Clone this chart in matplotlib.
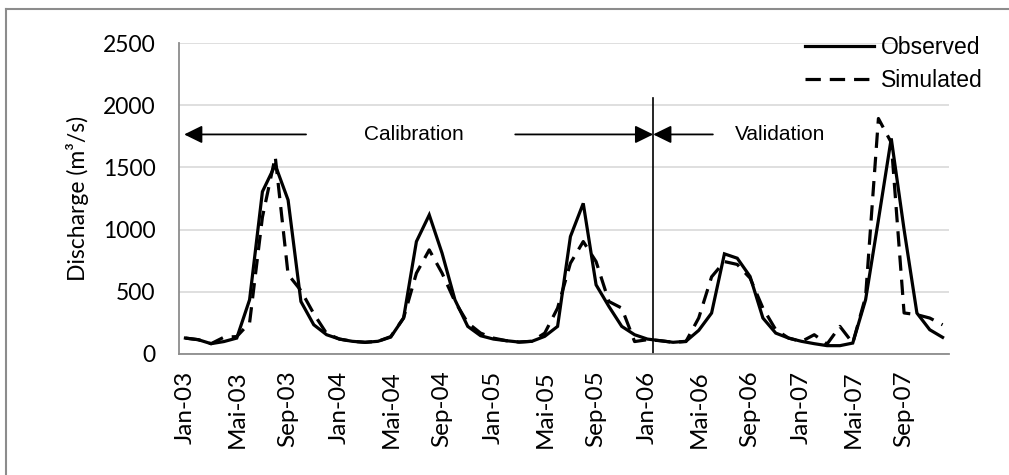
import numpy as np
import matplotlib
matplotlib.use('Agg')
import matplotlib.pyplot as plt
from matplotlib.lines import Line2D

# monthly discharge, Jan-03 .. Dec-07 (m3/s)
observed = [128, 115, 83, 100, 128, 436, 1305, 1519, 1238, 422, 235, 155,
            120, 102, 94, 102, 136, 289, 904, 1118, 810, 436, 222, 147,
            120, 107, 96, 102, 142, 222, 944, 1211, 556, 382, 222, 155,
            120, 107, 94, 102, 190, 329, 805, 770, 623, 289, 168, 128,
            102, 83, 67, 67, 88, 436, 1078, 1733, 1000, 329, 195, 134]
simulated = [128, 115, 83, 135, 140, 250, 1100, 1586, 640, 510, 324, 165,
             120, 102, 94, 102, 140, 290, 650, 837, 650, 422, 250, 168,
             128, 107, 96, 102, 168, 369, 730, 904, 743, 422, 369, 100,
             115, 107, 94, 100, 290, 620, 743, 720, 610, 369, 195, 128,
             100, 155, 80, 222, 88, 460, 1893, 1700, 330, 316, 289, 235]
tick_labels = ['Jan-03', 'Mai-03', 'Sep-03', 'Jan-04', 'Mai-04', 'Sep-04',
               'Jan-05', 'Mai-05', 'Sep-05', 'Jan-06', 'Mai-06', 'Sep-06',
               'Jan-07', 'Mai-07', 'Sep-07']
y_ticks = [0, 500, 1000, 1500, 2000, 2500]

split_month = 36.45   # calibration / validation boundary (Jan-06)

W, H = 1009, 475
fig = plt.figure(figsize=(W / 100, H / 100), dpi=100)
ax = fig.add_axes([179 / W, 1 - 354 / H, (949 - 179) / W, (354 - 43) / H])

x = np.arange(len(observed))
ax.plot(x, observed, color='black', lw=2.3, label='Observed', solid_joinstyle='miter')
ax.plot(x, simulated, color='black', lw=2.3, dashes=(4.8, 2.8), label='Simulated')

ax.set_xlim(-0.5, len(observed) - 0.5)
ax.set_ylim(0, 2500)
ax.set_yticks(y_ticks)
ax.set_xticks(np.arange(0, len(observed), 4))
ax.set_xticklabels(tick_labels, rotation=90, family='Lato', fontsize=17.5)
ax.set_yticklabels([str(v) for v in y_ticks], family='Lato', fontsize=16.5)
ax.tick_params(length=0)
ax.tick_params(axis='y', pad=17)
ax.tick_params(axis='x', pad=12)
ax.grid(axis='y', color='#d9d9d9', lw=1.2)
ax.set_axisbelow(True)
for s in ['top', 'right']:
    ax.spines[s].set_visible(False)
for s in ['left', 'bottom']:
    ax.spines[s].set_color('#8c8c8c')
    ax.spines[s].set_linewidth(1.3)
ax.set_ylabel('Discharge (m³/s)', family='Lato', fontsize=16.5, labelpad=10)

# calibration / validation markers
ax.axvline(split_month, ymin=0, ymax=2056 / 2500, color='black', lw=1.2)
arr = dict(arrowstyle='-|>,head_length=0.55,head_width=0.27', color='black',
           lw=1.3, mutation_scale=20, shrinkA=0, shrinkB=0)
y_arr = 1765
ax.annotate('', xy=(-0.1, y_arr), xytext=(9.4, y_arr), arrowprops=arr)
ax.annotate('', xy=(split_month, y_arr), xytext=(25.7, y_arr), arrowprops=arr)
ax.annotate('', xy=(split_month, y_arr), xytext=(41.1, y_arr), arrowprops=arr)
ax.text(17.8, y_arr, 'Calibration', ha='center', va='center',
        family='Liberation Sans', fontsize=15)
ax.text(46.3, y_arr, 'Validation', ha='center', va='center',
        family='Liberation Sans', fontsize=15)

fig.legend(loc='upper left', bbox_to_anchor=(805 / W, 1 - 36 / H), frameon=False,
           prop={'family': 'Liberation Sans', 'size': 16.5}, handlelength=3.0,
           handletextpad=0.3, borderpad=0, borderaxespad=0, labelspacing=0.42)

# chart border (top and left visible)
fig.add_artist(Line2D([6 / W, 6 / W], [0, 1 - 9 / H], color='#8c8c8c', lw=1.5))
fig.add_artist(Line2D([6 / W, 1], [1 - 9 / H, 1 - 9 / H], color='#8c8c8c', lw=1.5))

fig.savefig('out.png', dpi=100)
